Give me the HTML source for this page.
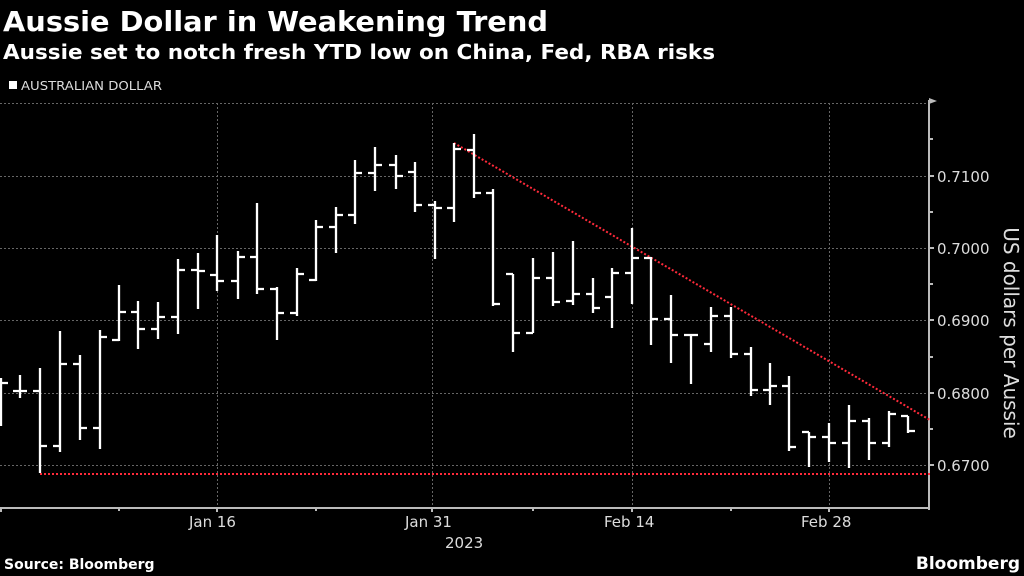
<!DOCTYPE html>
<html><head><meta charset="utf-8"><style>
html,body{margin:0;padding:0;background:#000;width:1024px;height:576px;overflow:hidden}
text{font-family:"DejaVu Sans","Liberation Sans",sans-serif}
</style></head><body>
<svg width="1024" height="576" viewBox="0 0 1024 576" xmlns="http://www.w3.org/2000/svg">
<rect width="1024" height="576" fill="#000"/>
<text x="3" y="31" font-size="28" font-weight="bold" fill="#fff" textLength="545" lengthAdjust="spacingAndGlyphs">Aussie Dollar in Weakening Trend</text>
<text x="3" y="59" font-size="20" font-weight="bold" fill="#fff" textLength="712" lengthAdjust="spacingAndGlyphs">Aussie set to notch fresh YTD low on China, Fed, RBA risks</text>
<rect x="9" y="81" width="8" height="8" fill="#fff"/>
<text x="21" y="90" font-size="12" fill="#ddd" textLength="141" lengthAdjust="spacingAndGlyphs">AUSTRALIAN DOLLAR</text>
<g stroke="#666" stroke-width="1" stroke-dasharray="2,2">
<path d="M0 103.5H929M0 176.5H929M0 248.5H929M0 320.5H929M0 393.5H929M0 465.5H929"/>
<path d="M217.5 103V508M432.5 103V508M632.5 103V508M829.5 103V508"/>
</g>
<g stroke="#bbb" stroke-width="2" fill="none">
<path d="M929 100V510M0 508H929"/>
<path d="M929 176h5M929 248h5M929 320h5M929 393h5M929 465h5M929 139h4M929 212h4M929 284h4M929 357h4M929 429h4"/>
<path d="M1 508v4M119 508v3M217 508v4M316 508v3M432 508v4M533 508v3M632 508v4M731 508v3M829 508v4"/>
</g>
<path d="M929 98l8 3l-8 3z" fill="#bbb"/>
<g fill="#ddd" font-size="15">
<text x="937" y="182">0.7100</text><text x="937" y="254">0.7000</text><text x="937" y="326">0.6900</text><text x="937" y="399">0.6800</text><text x="937" y="471">0.6700</text>
<text x="189" y="527">Jan 16</text><text x="405" y="527">Jan 31</text><text x="445" y="548">2023</text>
<text x="604" y="527">Feb 14</text><text x="801" y="527">Feb 28</text>
</g>
<text transform="translate(1004,333) rotate(90)" text-anchor="middle" font-size="20" fill="#ddd">US dollars per Aussie</text>
<text x="4" y="569" font-size="14" font-weight="bold" fill="#fff">Source: Bloomberg</text>
<text x="1020" y="569" font-size="17" font-weight="bold" fill="#fff" text-anchor="end">Bloomberg</text>
<path d="M40 474H930" stroke="#ff2a3a" stroke-width="2" stroke-dasharray="2,2"/>
<path d="M454 143L930 420" stroke="#ff2a3a" stroke-width="2" stroke-dasharray="2,2"/>
<g stroke="#fff" stroke-width="2.3" fill="none">
<path d="M1 378V426M1 383H8"/>
<path d="M20 375V398M13 391H20M20 391H27"/>
<path d="M40 368V473M33 391H40M40 446H47"/>
<path d="M60 331V452M53 446H60M60 364H67"/>
<path d="M80 355V440M73 364H80M80 428H87"/>
<path d="M100 330V449M93 428H100M100 337H107"/>
<path d="M119 285V341M112 340H119M119 312H126"/>
<path d="M138 301V349M131 312H138M138 329H145"/>
<path d="M158 302V339M151 329H158M158 317H165"/>
<path d="M178 259V334M171 317H178M178 270H185"/>
<path d="M198 253V309M191 270H198M198 271H205"/>
<path d="M217 235V291M210 275H217M217 281H224"/>
<path d="M238 251V299M231 281H238M238 257H245"/>
<path d="M257 203V294M250 257H257M257 289H264"/>
<path d="M277 287V340M270 289H277M277 313H284"/>
<path d="M297 268V316M290 313H297M297 274H304"/>
<path d="M316 220V281M309 280H316M316 227H323"/>
<path d="M336 207V253M329 227H336M336 215H343"/>
<path d="M355 160V224M348 215H355M355 173H362"/>
<path d="M375 147V191M368 173H375M375 165H382"/>
<path d="M396 155V189M389 165H396M396 176H403"/>
<path d="M415 162V212M408 172H415M415 205H422"/>
<path d="M435 201V259M428 205H435M435 208H442"/>
<path d="M454 143V222M447 208H454M454 149H461"/>
<path d="M474 134V198M467 150H474M474 193H481"/>
<path d="M493 189V306M486 193H493M493 304H500"/>
<path d="M513 274V352M506 274H513M513 333H520"/>
<path d="M533 258V333M526 333H533M533 278H540"/>
<path d="M553 252V306M546 278H553M553 302H560"/>
<path d="M573 241V305M566 301H573M573 294H580"/>
<path d="M593 278V313M586 294H593M593 308H600"/>
<path d="M612 268V328M605 297H612M612 273H619"/>
<path d="M632 228V304M625 273H632M632 258H639"/>
<path d="M651 257V345M644 258H651M651 319H658"/>
<path d="M671 295V363M664 319H671M671 335H678"/>
<path d="M691 335V384M684 335H691M691 335H698"/>
<path d="M711 307V352M704 344H711M711 316H718"/>
<path d="M731 307V358M724 316H731M731 354H738"/>
<path d="M751 347V396M744 354H751M751 390H758"/>
<path d="M770 363V405M763 390H770M770 386H777"/>
<path d="M789 376V451M782 386H789M789 447H796"/>
<path d="M809 432V467M802 432H809M809 437H816"/>
<path d="M829 423V462M822 437H829M829 443H836"/>
<path d="M849 405V468M842 443H849M849 421H856"/>
<path d="M869 418V460M862 421H869M869 443H876"/>
<path d="M889 411V447M882 443H889M889 414H896"/>
<path d="M908 416V433M901 416H908M908 431H915"/>
</g>
</svg>
</body></html>
